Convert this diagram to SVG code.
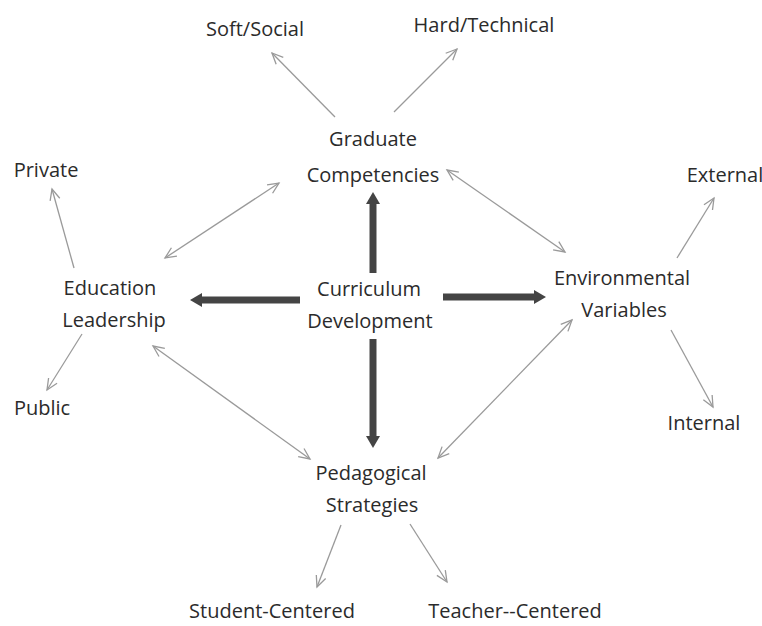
<svg xmlns="http://www.w3.org/2000/svg" width="762" height="626" viewBox="0 0 762 626">
<style>
text{font-family:"Open Sans","Liberation Sans",sans-serif;font-size:20px;fill:#2b2b2b;text-anchor:middle}
.thin{stroke:#9a9a9a;stroke-width:1.3;fill:none;marker-end:url(#v)}
.both{marker-start:url(#v)}
.thick{stroke:#444;stroke-width:7;fill:none}
.head{fill:#444}
</style>
<defs>
<marker id="v" markerUnits="userSpaceOnUse" markerWidth="14" markerHeight="14" refX="12" refY="6" orient="auto-start-reverse" viewBox="0 0 14 12">
<path d="M1,1 L12,6 L1,11" fill="none" stroke="#9a9a9a" stroke-width="1.3"/>
</marker>
</defs>
<rect width="762" height="626" fill="#fff"/>
<g id="connectors">
<line class="thin" x1="335" y1="117" x2="272" y2="53"/>
<line class="thin" x1="394" y1="112" x2="457" y2="49"/>
<line class="thin both" x1="165" y1="258" x2="279" y2="183"/>
<line class="thin both" x1="447" y1="170" x2="565" y2="252"/>
<line class="thin" x1="74" y1="268" x2="52" y2="189"/>
<line class="thin" x1="82" y1="334" x2="47" y2="390"/>
<line class="thin both" x1="153" y1="346" x2="310" y2="459"/>
<line class="thin both" x1="572" y1="320" x2="438" y2="458"/>
<line class="thin" x1="677" y1="258" x2="714" y2="198"/>
<line class="thin" x1="671" y1="330" x2="713" y2="407"/>
<line class="thin" x1="341" y1="525" x2="317" y2="587"/>
<line class="thin" x1="410" y1="524" x2="447" y2="582"/>
<line class="thick" x1="373" y1="273" x2="373" y2="202"/>
<polygon class="head" points="373,192 380,204 366,204"/>
<line class="thick" x1="300" y1="300" x2="200" y2="300"/>
<polygon class="head" points="190,300 202,293 202,307"/>
<line class="thick" x1="443" y1="297" x2="535" y2="297"/>
<polygon class="head" points="546,297 534,290 534,304"/>
<line class="thick" x1="373" y1="339" x2="373" y2="438"/>
<polygon class="head" points="373,448 366,436 380,436"/>
</g>
<g id="curriculum"><text x="369" y="296">Curriculum</text><text x="370" y="328">Development</text></g>
<g id="graduate"><text x="373" y="146">Graduate</text><text x="373" y="182">Competencies</text></g>
<g id="soft"><text x="255" y="36">Soft/Social</text></g>
<g id="hard"><text x="484" y="32">Hard/Technical</text></g>
<g id="education"><text x="110" y="295">Education</text><text x="114" y="327">Leadership</text></g>
<g id="private"><text x="46" y="177">Private</text></g>
<g id="public"><text x="42" y="415">Public</text></g>
<g id="environmental"><text x="622" y="285">Environmental</text><text x="624" y="317">Variables</text></g>
<g id="external"><text x="725" y="182">External</text></g>
<g id="internal"><text x="704" y="430">Internal</text></g>
<g id="pedagogical"><text x="371" y="480">Pedagogical</text><text x="372" y="512">Strategies</text></g>
<g id="student"><text x="272" y="618">Student-Centered</text></g>
<g id="teacher"><text x="515" y="618">Teacher--Centered</text></g>
</svg>
